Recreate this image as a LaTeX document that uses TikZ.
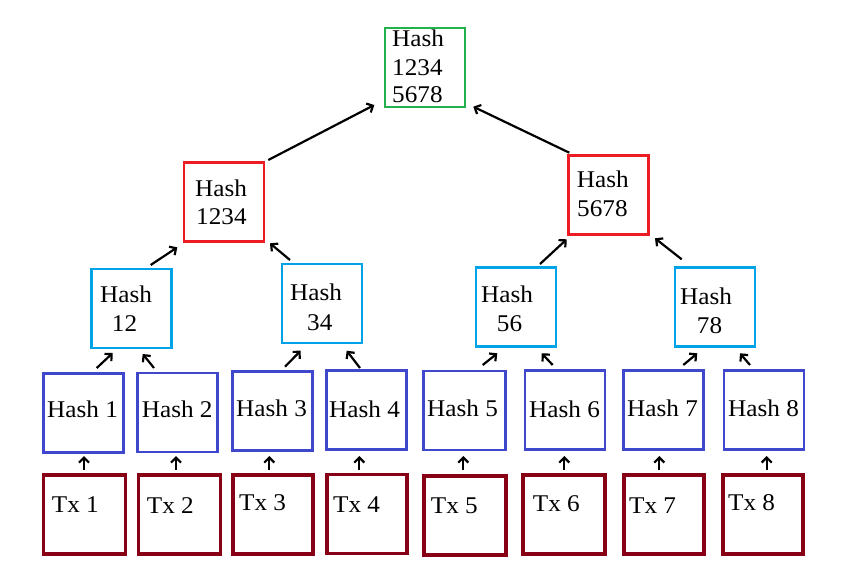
\documentclass[tikz,border=0pt]{standalone}
\usepackage{fontspec}
\setmainfont[FakeStretch=1.05]{Liberation Serif}
\usetikzlibrary{arrows.meta}
\definecolor{pgreen}{HTML}{22B14C}
\definecolor{pred}{HTML}{ED1C24}
\definecolor{pcyan}{HTML}{00A2E8}
\definecolor{pblue}{HTML}{3F48CC}
\definecolor{pdark}{HTML}{880015}
\begin{document}
\begin{tikzpicture}[x=1pt,y=-1pt,
  box/.style={draw, line width=2.8pt, inner sep=0pt, outer sep=0pt, minimum width=80pt, minimum height=79pt},
  txbox/.style={box, pdark, line width=3.2pt},
  lbl/.style={anchor=base west, inner sep=0pt, font=\fontsize{24}{28}\selectfont},
  arr/.style={line width=2.2pt, -{Straight Barb[length=5pt,width=10pt]}}]
\useasboundingbox (0,0) rectangle (844,566);
\fill[white] (0,0) rectangle (844,566);

% root
\node[box, pgreen] (g) at (425,67.5) {};
% level 2
\node[box, pred] (r1) at (224,202) {};
\node[box, pred] (r2) at (608.5,195) {};
% level 3
\node[box, pcyan] (c12) at (131.5,308.5) {};
\node[box, pcyan] (c34) at (322,303.5) {};
\node[box, pcyan] (c56) at (516,307) {};
\node[box, pcyan] (c78) at (715,307) {};
% leaf hashes
\node[box, pblue] (h1) at (83.5,413) {};
\node[box, pblue] (h2) at (177.5,412.5) {};
\node[box, pblue] (h3) at (272.5,411) {};
\node[box, pblue] (h4) at (366.5,410) {};
\node[box, pblue, minimum width=82pt] (h5) at (464.5,410.5) {};
\node[box, pblue] (h6) at (565,410) {};
\node[box, pblue] (h7) at (663.5,410) {};
\node[box, pblue] (h8) at (764,410) {};
% transactions
\node[txbox, minimum width=82pt] (t1) at (84.5,514.5) {};
\node[txbox, minimum width=82pt] (t2) at (179.5,514.5) {};
\node[txbox] (t3) at (273,514.5) {};
\node[txbox] (t4) at (367,514) {};
\node[txbox, minimum width=82pt, line width=4pt] (t5) at (464.5,515.5) {};
\node[txbox, minimum width=82pt, line width=4pt] (t6) at (563.5,514) {};
\node[txbox] (t7) at (664,514.5) {};
\node[txbox] (t8) at (763,514.5) {};

% labels
\node[lbl] (gl1) at (392,46.7) {Hash};
\node[lbl] (gl2) at (392,75) {1234};
\node[lbl] (gl3) at (392,102.7) {5678};
\node[lbl] (r1l1) at (195,196.7) {Hash};
\node[lbl] (r1l2) at (196,224) {1234};
\node[lbl] (r2l1) at (576.7,187.7) {Hash};
\node[lbl] (r2l2) at (577,216) {5678};
\node[lbl] (c12l1) at (100,302.7) {Hash};
\node[lbl] (c12l2) at (111.7,331) {12};
\node[lbl] (c34l1) at (290,300) {Hash};
\node[lbl] (c34l2) at (307,330) {34};
\node[lbl] (c56l1) at (481,302.3) {Hash};
\node[lbl] (c56l2) at (496.7,331) {56};
\node[lbl] (c78l1) at (680,304.3) {Hash};
\node[lbl] (c78l2) at (696.7,333.3) {78};
\node[lbl] (h1l) at (47,417.3) {Hash 1};
\node[lbl] (h2l) at (141.7,417) {Hash 2};
\node[lbl] (h3l) at (236,416.7) {Hash 3};
\node[lbl] (h4l) at (329,417) {Hash 4};
\node[lbl] (h5l) at (427,416) {Hash 5};
\node[lbl] (h6l) at (529,417) {Hash 6};
\node[lbl] (h7l) at (627,416) {Hash 7};
\node[lbl] (h8l) at (728,416) {Hash 8};
\node[lbl] (t1l) at (51.7,512.7) {Tx 1};
\node[lbl] (t2l) at (146.7,513) {Tx 2};
\node[lbl] (t3l) at (239,510.7) {Tx 3};
\node[lbl] (t4l) at (333,512.7) {Tx 4};
\node[lbl] (t5l) at (430.7,513.3) {Tx 5};
\node[lbl] (t6l) at (532.7,511.7) {Tx 6};
\node[lbl] (t7l) at (629,513.3) {Tx 7};
\node[lbl] (t8l) at (728,510.7) {Tx 8};

% arrows
\foreach \n/\a/\b/\c/\d in {
  1/268.3/160/374.3/105, 2/569.3/152.7/473.3/106.7,
  3/150.7/265/177.3/247.3, 4/290/260/270/243.3,
  5/540/264/566.7/239.3, 6/681.7/259.3/655/238.3,
  7/96.7/368/112.7/353, 8/154/368/142.7/354,
  9/285/366.7/300.7/350.7, 10/360/368/346.7/350.7,
  11/482.7/365/497.3/353.3, 12/552.7/365/541.7/353.3,
  13/683.3/365/697.3/353.3, 14/750/365/740/353.3,
  15/84/469.5/84/456, 16/176/469.5/176/456,
  17/269.3/469.5/269.3/456, 18/359.3/469.5/359.3/456,
  19/463.3/469.5/463.3/456, 20/564.3/469.5/564.3/456,
  21/659.3/469.5/659.3/456, 22/766.7/469.5/766.7/456}{
  \coordinate (s\n) at (\a,\b);
  \coordinate (e\n) at (\c,\d);
  \draw[arr] (s\n) -- (e\n);
}
\end{tikzpicture}
\end{document}
